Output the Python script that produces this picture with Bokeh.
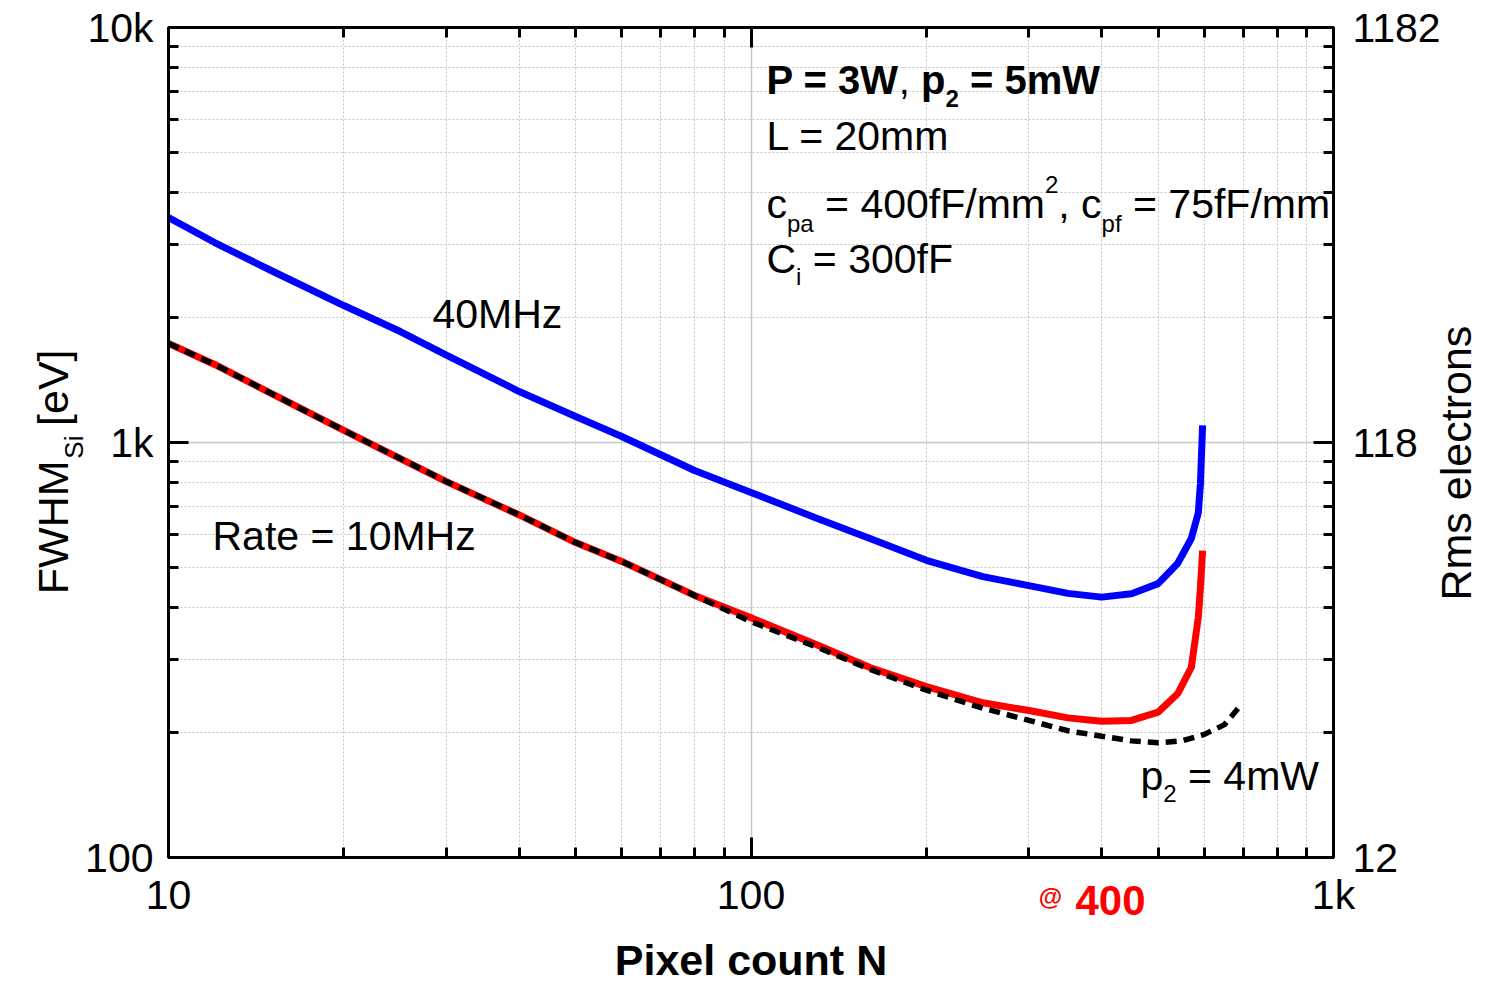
import math
from bokeh.plotting import figure
from bokeh.models import LogAxis, Label, Range1d, FixedTicker
from bokeh.embed import file_html
from bokeh.resources import INLINE

# ---------------- data ----------------
n_pixels = [10, 12, 15, 20, 25, 30, 40, 50, 60, 80, 100, 130, 160, 200, 250,
            300, 350, 400, 450, 500, 540, 570, 586, 591, 596]
fwhm_40mhz = [3485, 3033, 2597, 2138, 1851, 1624, 1327, 1155, 1034, 856, 758,
              656, 587, 520, 475, 452, 433, 424, 432, 457, 511, 587, 677, 797, 1099]
fwhm_10mhz = [1732, 1542, 1313, 1069, 915, 805, 669, 574, 517, 428, 378,
              325, 287, 258, 236, 226, 217, 213, 214, 224, 248, 287, 379, 447, 549]
n_pixels_p2_4mw = [10, 12, 15, 20, 25, 30, 40, 50, 60, 80, 100, 130, 160, 200,
                   250, 300, 350, 400, 450, 500, 550, 600, 650, 690]
fwhm_p2_4mw = [1732, 1542, 1313, 1069, 915, 805, 669, 574, 517, 428, 370,
               321, 284, 253, 229, 214, 202, 196, 191, 189, 191, 198, 209, 231]

x_major = [10, 100, 1000]
y_major = [100, 1000, 10000]
x_tick_labels = {10: "10", 100: "100", 1000: "1k"}
y_tick_labels = {100: "100", 1000: "1k", 10000: "10k"}
rms_tick_labels = {100: "12", 1000: "118", 10000: "1182"}

FONT = "Liberation Sans"
W, H = 1507, 990
RED = "#ff0000"


def minor_of(majors):
    return [m * majors[i] for i in range(len(majors) - 1) for m in range(2, 10)]


def ref_to_data(px, py):
    # reference pixel -> data coordinates (frame spans 168..1333, 27..857)
    return 10 ** (1 + (px - 168) / 582.5), 10 ** (4 - (py - 27) / 415.0)


p = figure(width=W, height=H, x_axis_type="log", y_axis_type="log",
           x_range=Range1d(10, 1000), y_range=Range1d(100, 10000),
           output_backend="svg", toolbar_location=None,
           min_border_left=168, min_border_right=W - 1333,
           min_border_top=27, min_border_bottom=H - 857,
           background_fill_color="white", border_fill_color="white")
p.outline_line_color = "black"
p.outline_line_width = 3

xt = FixedTicker(ticks=x_major, minor_ticks=minor_of(x_major))
yt = FixedTicker(ticks=y_major, minor_ticks=minor_of(y_major))


def style_axis(ax, standoff, size="41px"):
    ax.axis_line_color = "black"
    ax.axis_line_width = 3
    ax.major_tick_in = 20
    ax.major_tick_out = 0
    ax.minor_tick_in = 10
    ax.minor_tick_out = 0
    ax.major_tick_line_width = 3
    ax.minor_tick_line_width = 3
    ax.major_tick_line_color = "black"
    ax.minor_tick_line_color = "black"
    ax.major_label_text_font = FONT
    ax.major_label_text_font_size = size
    ax.major_label_text_color = "black"
    ax.major_label_standoff = standoff


def text_axis(side, ticks_labels, standoff, size, bold=False, color="black",
              orientation="horizontal"):
    """An axis without line/ticks whose tick labels carry text outside the frame."""
    ticks = sorted(ticks_labels)
    ax = LogAxis(ticker=FixedTicker(ticks=ticks, minor_ticks=[]),
                 major_label_overrides=dict(ticks_labels))
    ax.axis_line_color = None
    ax.major_tick_line_color = None
    ax.minor_tick_line_color = None
    ax.major_tick_in = 0
    ax.major_tick_out = 0
    ax.minor_tick_in = 0
    ax.minor_tick_out = 0
    ax.major_label_text_font = FONT
    ax.major_label_text_font_size = size
    ax.major_label_text_font_style = "bold" if bold else "normal"
    ax.major_label_text_color = color
    ax.major_label_standoff = standoff
    ax.major_label_orientation = orientation
    p.add_layout(ax, side)
    return ax


# main axes
xa = p.xaxis[0]
xa.ticker = xt
xa.major_label_overrides = x_tick_labels
style_axis(xa, 14)

ya = p.yaxis[0]
ya.ticker = yt
ya.major_label_overrides = y_tick_labels
style_axis(ya, 15)

ra = LogAxis(ticker=yt, major_label_overrides=rms_tick_labels)
style_axis(ra, 19)
p.add_layout(ra, "right")

ta = LogAxis(ticker=xt)
style_axis(ta, 0)
ta.major_label_text_font_size = "1px"
ta.major_label_text_color = None
p.add_layout(ta, "above")

# ----- texts outside the frame, carried by label-only axes -----
# left: FWHM_Si [eV]; rotated labels end (top) at their tick
_, y_si_end = ref_to_data(0, 435)
_, y_fwhm_end = ref_to_data(0, 460)
_, y_ev_end = ref_to_data(0, 349)
text_axis("left", {y_si_end: "Si"}, 9, "26px", orientation=math.pi / 2)
text_axis("left", {y_fwhm_end: "FWHM", y_ev_end: "[eV]"}, -12, "43px",
          orientation=math.pi / 2)

# right: Rms electrons; rotated label starts (bottom) at its tick
_, y_rms_start = ref_to_data(0, 600)
text_axis("right", {y_rms_start: "Rms electrons"}, 12, "43px",
          orientation=math.pi / 2)

# below: red "@ 400" marker and the x title
x_400, _ = ref_to_data(1110, 0)
x_at, _ = ref_to_data(1050, 0)
text_axis("below", {x_400: "400"}, -35, "42px", bold=True, color=RED)
ax_title = text_axis("below", {x_at: "@"}, -38, "24px", bold=True, color=RED)
ax_title.axis_label = "Pixel count N"
ax_title.axis_label_text_font = FONT
ax_title.axis_label_text_font_size = "43px"
ax_title.axis_label_text_font_style = "bold"
ax_title.axis_label_text_color = "black"
ax_title.axis_label_standoff = 23

for g, t in ((p.xgrid[0], xt), (p.ygrid[0], yt)):
    g.ticker = t
    g.grid_line_color = "#c8c8c8"
    g.grid_line_width = 1.5
    g.minor_grid_line_color = "#c4c4c4"
    g.minor_grid_line_width = 1
    g.minor_grid_line_dash = "2 2"

# ---------------- curves ----------------
p.line(n_pixels, fwhm_40mhz, line_color="#0000ff", line_width=7)
p.line(n_pixels, fwhm_10mhz, line_color=RED, line_width=7)
p.line(n_pixels_p2_4mw, fwhm_p2_4mw, line_color="black", line_width=5.5,
       line_dash="11 7")

# ---------------- texts inside the frame ----------------
REG_W = {' ': 278, ',': 278, '/': 278, '=': 584, '@': 1015, '[': 278, ']': 278,
         'C': 722, 'F': 611, 'H': 722, 'L': 556, 'M': 833, 'N': 722, 'P': 667,
         'R': 722, 'S': 667, 'V': 667, 'W': 944, 'a': 556, 'c': 500, 'e': 556,
         'f': 278, 'i': 222, 'l': 222, 'm': 833, 'n': 556, 'o': 556, 'p': 556,
         'r': 333, 's': 500, 't': 278, 'z': 500, 'k': 500}
BOLD_W = {' ': 278, ',': 278, '=': 584, '@': 975, 'P': 667, 'W': 944,
          'm': 889, 'p': 611}


def text_w(s, size, bold):
    table = BOLD_W if bold else REG_W
    return sum(table.get(ch, 556) for ch in s) * size / 1000.0


def rich_text(px, py, segs, color="black"):
    """py is the vertical centre of the text line (middle anchored)."""
    xd, yd = ref_to_data(px, py)
    adv = 0.0
    for s, size, bold, shift in segs:
        lead = len(s) - len(s.lstrip(" "))
        adv += text_w(s[:lead], size, bold)
        s = s.lstrip(" ")
        p.add_layout(Label(x=xd, y=yd, x_offset=adv, y_offset=-shift,
                           text=s, text_font=FONT, text_font_size=f"{size}px",
                           text_font_style="bold" if bold else "normal",
                           text_color=color, text_align="left",
                           text_baseline="middle"))
        adv += text_w(s, size, bold)


rich_text(766, 79, [("P = 3W", 40, True, 0), (", ", 40, False, 0),
                    ("p", 40, True, 0), ("2", 24, True, 19),
                    (" = 5mW", 40, True, 0)])
rich_text(766, 135, [("L = 20mm", 41, False, 0)])
rich_text(766, 203, [("c", 41, False, 0), ("pa", 24, False, 20),
                     (" = 400fF/mm", 41, False, 0), ("2", 24, False, -19),
                     (", c", 41, False, 0), ("pf", 24, False, 20),
                     (" = 75fF/mm", 41, False, 0)])
rich_text(766, 258, [("C", 41, False, 0), ("i", 24, False, 18),
                     (" = 300fF", 41, False, 0)])
rich_text(432, 313, [("40MHz", 41, False, 0)])
rich_text(212, 535, [("Rate = 10MHz", 41, False, 0)])
rich_text(1140, 775, [("p", 41, False, 0), ("2", 24, False, 18),
                      (" = 4mW", 41, False, 0)])

open("out.html", "w").write(file_html(p, INLINE))
